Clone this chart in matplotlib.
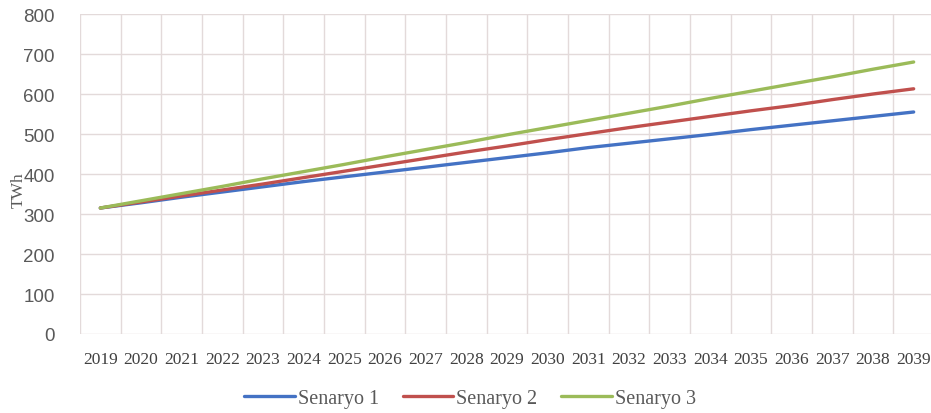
import numpy as np
import matplotlib.pyplot as plt

years = [str(y) for y in range(2019, 2040)]
senaryo_1 = [315, 328, 342, 355, 368, 381, 393, 405, 417, 429, 441,
             453, 466, 477, 488, 499, 511, 522, 533, 544, 555]
senaryo_2 = [315, 330, 345, 360, 375, 391, 407, 423, 439, 455, 470,
             486, 501, 516, 530, 544, 558, 571, 586, 600, 613]
senaryo_3 = [315, 333, 351, 369, 388, 406, 424, 443, 461, 479, 498,
             516, 534, 552, 570, 589, 607, 625, 643, 662, 680]

series = [("Senaryo 1", senaryo_1, "#4472c4"),
          ("Senaryo 2", senaryo_2, "#c0504d"),
          ("Senaryo 3", senaryo_3, "#9bbb59")]

fig = plt.figure(figsize=(9.31, 4.14), dpi=100)
ax = fig.add_axes([80 / 931, 79 / 414, 854 / 931, 320 / 414])

x = np.arange(len(years))
for name, vals, col in series:
    ax.plot(x, vals, color=col, lw=2.4, label=name, solid_capstyle="round")

ax.set_xlim(-0.5, len(years) - 0.5)
ax.set_ylim(0, 800)
ax.set_yticks(range(0, 801, 100))
ax.set_xticks(x)
ax.set_xticklabels(years, family="Liberation Serif", fontsize=12.5, color="#404040")
for lab in ax.get_yticklabels():
    lab.set_family("Liberation Sans")
    lab.set_fontsize(13.5)
    lab.set_color("#595959")

# category borders as vertical grid, value grid horizontal
ax.set_xticks(np.arange(-0.5, len(years), 1), minor=True)
ax.grid(which="minor", axis="x", color="#e3dada", lw=1)
ax.grid(which="major", axis="y", color="#e3dada", lw=1)
ax.set_axisbelow(True)
ax.tick_params(which="both", length=0)
ax.tick_params(axis="y", pad=18)
ax.tick_params(axis="x", pad=12)
for s in ax.spines.values():
    s.set_visible(False)

fig.text(19 / 931, 1 - 190 / 414, "TWh", rotation=90, ha="center", va="center",
         family="Liberation Serif", fontsize=12.5, color="#595959")

fig.legend(loc="center", bbox_to_anchor=(470 / 931, 15 / 414), ncol=3, frameon=False,
           handlelength=2.5, handletextpad=0.15, columnspacing=1.2,
           prop={"family": "Liberation Serif", "size": 14.5}, labelcolor="#595959")

fig.savefig("out.png", dpi=100)
